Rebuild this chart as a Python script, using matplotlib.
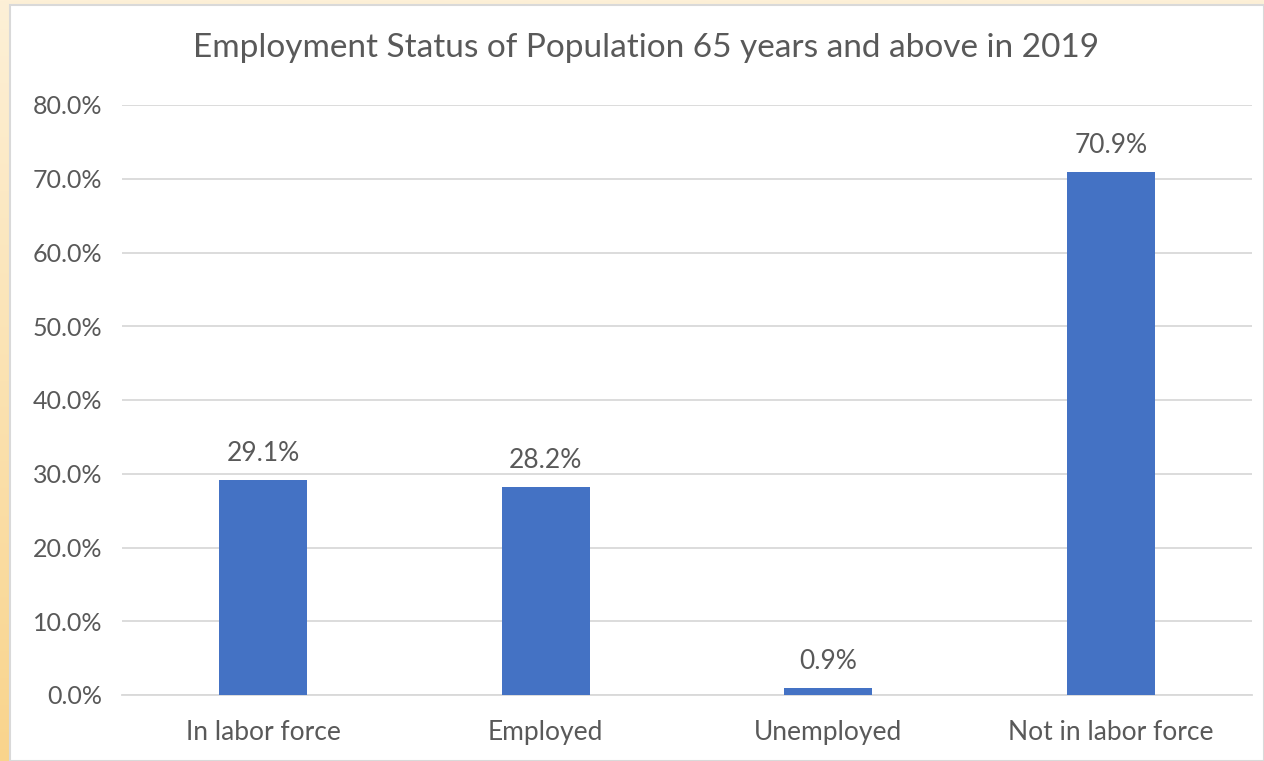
import numpy as np
import matplotlib
matplotlib.use('Agg')
import matplotlib.pyplot as plt
from matplotlib.ticker import PercentFormatter
from matplotlib.patches import Rectangle

plt.rcParams['font.family'] = ['Lato', 'DejaVu Sans']

categories = ['In labor force', 'Employed', 'Unemployed', 'Not in labor force']
values = [29.1, 28.2, 0.9, 70.9]
yticks = [0, 10, 20, 30, 40, 50, 60, 70, 80]

TXT = '#595959'
BAR = '#4472C4'

W, H = 1264, 761
fig = plt.figure(figsize=(W / 100, H / 100), dpi=100)

# orange gradient frame behind the chart
bg = fig.add_axes([0, 0, 1, 1], zorder=0)
bg.set_axis_off()
grad = np.linspace(0, 1, 256).reshape(-1, 1)
top_c = np.array([253, 240, 215]) / 255
bot_c = np.array([249, 212, 140]) / 255
img = top_c[None, None, :] + (bot_c - top_c)[None, None, :] * (1 - grad)[:, :, None]
bg.imshow(img, aspect='auto', extent=[0, 1, 0, 1], origin='lower')
bg.set_xlim(0, 1); bg.set_ylim(0, 1)
bg.add_patch(Rectangle((10 / W, 0), 1 - 10 / W, 1 - 5 / H, fc='white', ec='#D9D9D9', lw=1.5))

ax = fig.add_axes([122 / W, 1 - 695 / H, 1130 / W, 590 / H], zorder=1)
ax.patch.set_alpha(0)
x = np.arange(len(categories))
ax.bar(x, values, width=0.31, color=BAR, zorder=3)
for xi, v in zip(x, values):
    ax.text(xi, v + 1.9, f'{v:.1f}%', ha='center', va='bottom', fontsize=19, color=TXT)

ax.set_xlim(-0.5, len(categories) - 0.5)
ax.set_ylim(0, 80)
ax.set_yticks(yticks)
ax.yaxis.set_major_formatter(PercentFormatter(decimals=1))
ax.set_xticks(x)
ax.set_xticklabels(categories)
ax.tick_params(axis='both', length=0, labelcolor=TXT)
ax.tick_params(axis='y', pad=14, labelsize=18)
ax.tick_params(axis='x', pad=18, labelsize=19)
ax.grid(axis='y', color='#D9D9D9', lw=1.3, zorder=0)
for s in ['top', 'right', 'left']:
    ax.spines[s].set_visible(False)
ax.spines['bottom'].set_color('#D9D9D9')
ax.spines['bottom'].set_linewidth(1.3)

fig.text(646 / W, 1 - 48 / H, 'Employment Status of Population 65 years and above in 2019',
         ha='center', va='center', fontsize=24, color=TXT)

fig.savefig('out.png', dpi=100)
